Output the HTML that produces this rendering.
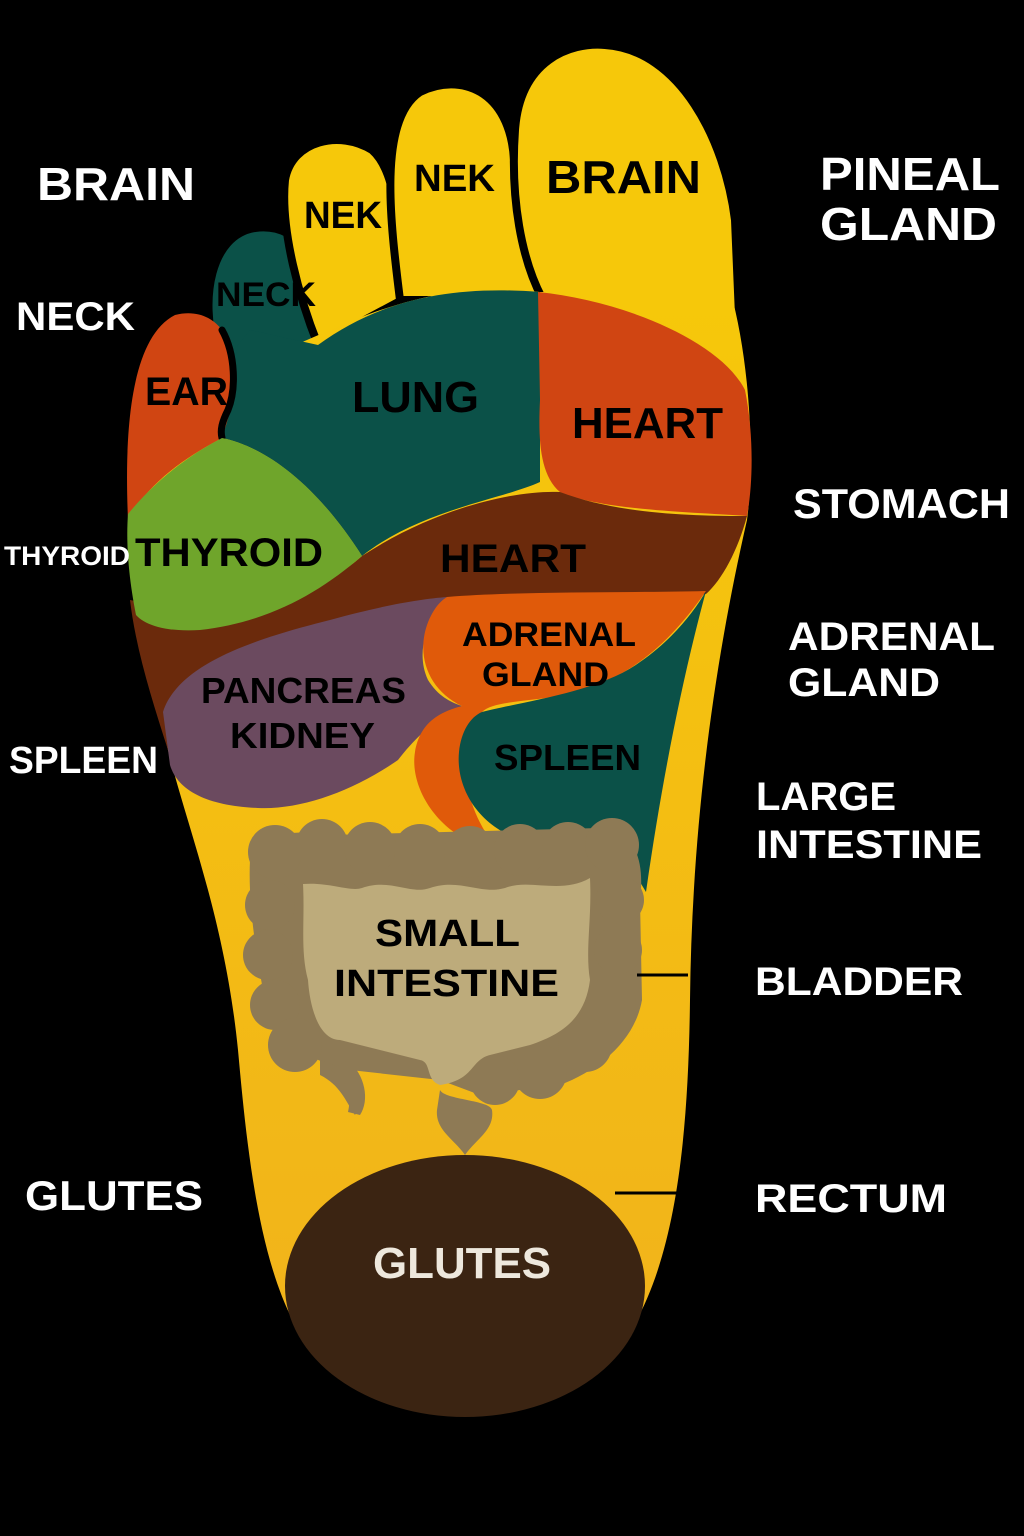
<!DOCTYPE html>
<html><head><meta charset="utf-8"><style>
html,body{margin:0;padding:0;background:#000;}
svg{display:block}
text{font-family:"Liberation Sans",sans-serif;font-weight:bold;}
</style></head><body>
<svg width="1024" height="1536" viewBox="0 0 1024 1536" xmlns="http://www.w3.org/2000/svg">
<defs>
<linearGradient id="yg" x1="0" y1="0" x2="0" y2="1">
<stop offset="0" stop-color="#F6C80A"/><stop offset="1" stop-color="#F1B21C"/>
</linearGradient>
</defs>
<rect width="1024" height="1536" fill="#000"/>
<!-- toes -->
<g stroke="#000" stroke-width="8">
<path d="M215,350 C200,300 210,235 255,228 C300,222 322,265 322,310 L322,360 L230,440 Z" fill="#0B5148"/>
<path d="M318,345 C300,300 280,230 285,180 C292,140 340,130 372,150 C395,170 400,220 402,300 Z" fill="#F6C80A"/>
<path d="M400,300 C390,220 378,120 420,92 C460,72 510,90 514,160 C516,220 525,270 545,300 Z" fill="#F6C80A"/>
<path d="M542,298 C522,260 510,200 515,130 C520,60 570,42 605,45 C680,50 725,140 735,220 L740,340 Z" fill="#F6C80A"/>
</g>
<!-- sole -->
<path d="M130,470 C132,420 170,400 215,380 L330,330 C420,290 480,285 540,292 L730,290 C750,360 755,460 747,520 C715,660 692,820 690,1000 C688,1160 672,1300 600,1370 C530,1425 390,1420 320,1360 C262,1300 248,1160 238,1050 C225,920 188,830 168,750 C142,650 128,560 130,470 Z" fill="url(#yg)"/>
<!-- lung -->
<path d="M222,438 C228,400 232,370 238,345 L250,330 L318,345 C380,300 450,285 540,292 L540,482 C500,500 420,510 362,556 C320,490 270,448 222,438 Z" fill="#0B5148"/>
<!-- ear toe -->
<path d="M128,520 C125,450 126,340 175,315 C215,305 238,340 235,380 C232,410 226,425 222,438 C190,455 150,480 128,520 Z" fill="#D04512"/>
<path d="M222,330 C236,355 236,390 228,410 C222,422 220,430 222,438" fill="none" stroke="#000" stroke-width="7" stroke-linecap="round"/>
<!-- heart -->
<path d="M538,292 C620,300 720,340 745,390 C755,440 752,490 747,516 C690,512 600,510 560,492 C540,475 538,440 540,400 Z" fill="#D04512"/>
<!-- brown band -->
<path d="M130,600 C250,625 330,585 362,556 C440,505 520,490 560,492 C620,515 700,516 747,516 C738,550 722,580 706,594 L600,620 L300,650 L168,750 C152,700 136,650 130,600 Z" fill="#6B2A0C"/>
<!-- thyroid -->
<path d="M222,438 C270,448 320,490 362,556 C320,592 270,622 200,630 C165,632 145,625 136,615 C128,575 126,540 128,514 C160,475 195,452 222,438 Z" fill="#6FA52B"/>
<!-- purple -->
<path d="M163,712 C178,665 250,640 330,620 C380,606 420,599 447,597 C427,620 415,652 428,680 C438,696 450,702 462,706 C432,720 412,742 398,760 C352,792 300,810 258,808 C210,806 178,792 170,765 Z" fill="#6B4A5F"/>
<!-- orange -->
<path d="M447,597 C520,591 630,593 706,591 C672,640 630,682 560,696 C520,702 492,702 482,712 C462,742 456,792 492,842 L470,842 C430,822 410,782 415,752 C420,722 440,712 462,706 C432,692 418,662 425,632 C430,612 440,601 447,597 Z" fill="#E05A0A"/>
<!-- spleen -->
<path d="M482,712 C520,702 600,692 640,662 C672,640 694,612 706,591 C682,680 662,780 646,892 L640,882 C610,852 560,842 520,840 C472,822 456,782 459,752 C461,732 470,717 482,712 Z" fill="#0B5148"/>
<!-- small intestine frame -->
<g fill="#8E7A55">
<path d="M250,860 C250,835 300,828 330,835 L600,828 C635,830 645,860 640,900 L642,1000 C635,1040 600,1070 560,1085 L480,1095 L440,1080 L350,1070 C300,1060 270,1030 265,1000 C255,950 248,900 250,860 Z"/>
<circle cx="275" cy="852" r="27"/><circle cx="322" cy="845" r="26"/><circle cx="370" cy="848" r="26"/><circle cx="420" cy="850" r="26"/><circle cx="470" cy="852" r="26"/><circle cx="520" cy="850" r="26"/><circle cx="568" cy="848" r="26"/><circle cx="612" cy="845" r="27"/>
<circle cx="270" cy="905" r="25"/><circle cx="268" cy="955" r="25"/><circle cx="275" cy="1005" r="25"/><circle cx="295" cy="1045" r="27"/>
<circle cx="620" cy="900" r="24"/><circle cx="618" cy="950" r="24"/><circle cx="612" cy="1000" r="24"/><circle cx="585" cy="1045" r="27"/><circle cx="540" cy="1072" r="27"/><circle cx="495" cy="1080" r="25"/>
<path d="M320,1060 C355,1070 370,1090 355,1115 C345,1100 340,1085 320,1075 Z"/>
<path d="M348,1060 C365,1075 370,1100 360,1115 L348,1112 C352,1095 348,1080 330,1070 Z"/>
<path d="M440,1090 C445,1100 490,1100 492,1110 C495,1130 475,1140 465,1155 C455,1140 435,1130 437,1110 Z"/>
</g>
<path d="M303,884 C330,882 350,892 362,888 C390,878 410,895 430,888 C460,878 480,895 505,888 C530,878 560,895 590,878 C592,920 585,950 590,980 C585,1020 560,1035 530,1045 L490,1055 C470,1060 475,1080 440,1085 C425,1080 432,1062 420,1060 L340,1040 C320,1040 310,1010 308,980 C300,950 305,920 303,884 Z" fill="#BDAB7B"/>
<!-- glutes -->
<ellipse cx="465" cy="1286" rx="180" ry="131" fill="#3B2412"/>
<!-- connector lines -->
<line x1="637" y1="975" x2="688" y2="975" stroke="#000" stroke-width="3"/>
<line x1="615" y1="1193" x2="680" y2="1193" stroke="#000" stroke-width="3"/>
<!-- in-foot labels -->
<g fill="#000">
<text x="304" y="228" font-size="38" textLength="78" lengthAdjust="spacingAndGlyphs">NEK</text>
<text x="414" y="191" font-size="38" textLength="81" lengthAdjust="spacingAndGlyphs">NEK</text>
<text x="546" y="193" font-size="46" textLength="155" lengthAdjust="spacingAndGlyphs">BRAIN</text>
<text x="216" y="306" font-size="34" textLength="100" lengthAdjust="spacingAndGlyphs">NECK</text>
<text x="145" y="405" font-size="40" textLength="83" lengthAdjust="spacingAndGlyphs">EAR</text>
<text x="352" y="412" font-size="44" textLength="127" lengthAdjust="spacingAndGlyphs">LUNG</text>
<text x="572" y="438" font-size="44" textLength="151" lengthAdjust="spacingAndGlyphs">HEART</text>
<text x="135" y="566" font-size="40" textLength="188" lengthAdjust="spacingAndGlyphs">THYROID</text>
<text x="440" y="572" font-size="40" textLength="146" lengthAdjust="spacingAndGlyphs">HEART</text>
<text x="462" y="646" font-size="34" textLength="174" lengthAdjust="spacingAndGlyphs">ADRENAL</text>
<text x="482" y="686" font-size="34" textLength="127" lengthAdjust="spacingAndGlyphs">GLAND</text>
<text x="201" y="703" font-size="36" textLength="205" lengthAdjust="spacingAndGlyphs">PANCREAS</text>
<text x="230" y="748" font-size="36" textLength="145" lengthAdjust="spacingAndGlyphs">KIDNEY</text>
<text x="494" y="770" font-size="36" textLength="147" lengthAdjust="spacingAndGlyphs">SPLEEN</text>
<text x="375" y="946" font-size="38" textLength="145" lengthAdjust="spacingAndGlyphs">SMALL</text>
<text x="334" y="996" font-size="38" textLength="225" lengthAdjust="spacingAndGlyphs">INTESTINE</text>
</g>
<text x="373" y="1278" font-size="44" fill="#EEE8DD" textLength="178" lengthAdjust="spacingAndGlyphs">GLUTES</text>
<!-- outside labels -->
<g fill="#fff">
<text x="37" y="200" font-size="46" textLength="158" lengthAdjust="spacingAndGlyphs">BRAIN</text>
<text x="16" y="330" font-size="40" textLength="119" lengthAdjust="spacingAndGlyphs">NECK</text>
<text x="4" y="565" font-size="27" textLength="126" lengthAdjust="spacingAndGlyphs">THYROID</text>
<text x="9" y="773" font-size="38" textLength="149" lengthAdjust="spacingAndGlyphs">SPLEEN</text>
<text x="25" y="1210" font-size="42" textLength="178" lengthAdjust="spacingAndGlyphs">GLUTES</text>
<text x="820" y="190" font-size="46" textLength="180" lengthAdjust="spacingAndGlyphs">PINEAL</text>
<text x="820" y="240" font-size="46" textLength="177" lengthAdjust="spacingAndGlyphs">GLAND</text>
<text x="793" y="518" font-size="42" textLength="217" lengthAdjust="spacingAndGlyphs">STOMACH</text>
<text x="788" y="650" font-size="40" textLength="207" lengthAdjust="spacingAndGlyphs">ADRENAL</text>
<text x="788" y="696" font-size="40" textLength="152" lengthAdjust="spacingAndGlyphs">GLAND</text>
<text x="756" y="810" font-size="40" textLength="140" lengthAdjust="spacingAndGlyphs">LARGE</text>
<text x="756" y="858" font-size="40" textLength="226" lengthAdjust="spacingAndGlyphs">INTESTINE</text>
<text x="755" y="995" font-size="40" textLength="208" lengthAdjust="spacingAndGlyphs">BLADDER</text>
<text x="755" y="1212" font-size="40" textLength="192" lengthAdjust="spacingAndGlyphs">RECTUM</text>
</g>
</svg>
</body></html>
